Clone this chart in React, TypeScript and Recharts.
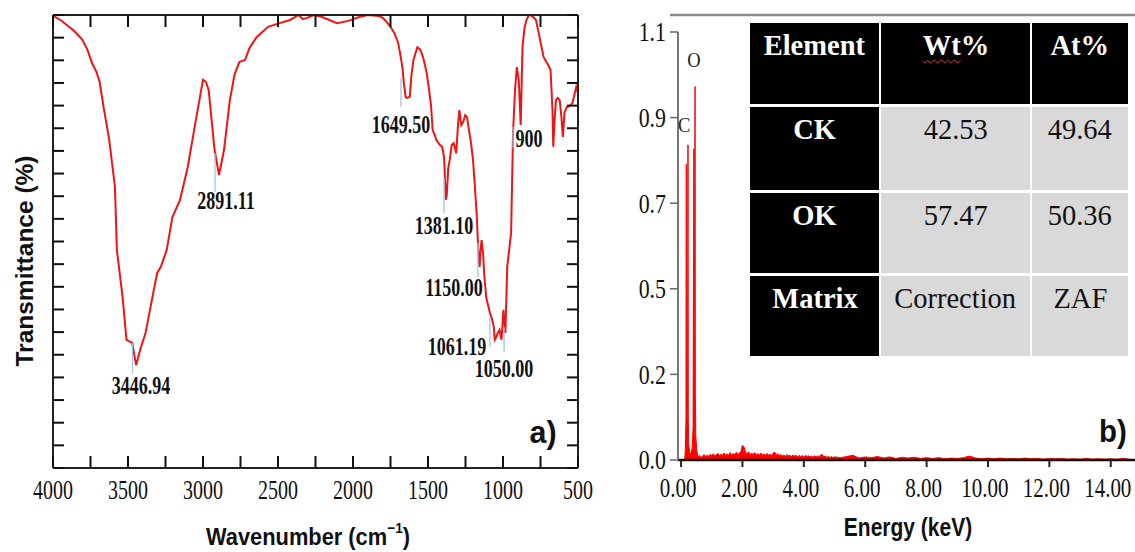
import React from 'react';
import { LineChart, AreaChart, Line, Area, XAxis, YAxis, ReferenceLine, ReferenceDot } from 'recharts';

const SERIF = '"Liberation Serif", "Times New Roman", serif';
const SANS = '"Liberation Sans", Arial, sans-serif';

// FTIR spectrum (wavenumber in cm-1, transmittance in %)
const ftirWavenumber = [
  4000, 3950, 3893, 3850, 3804, 3770, 3740, 3710, 3689, 3663,
  3625, 3587, 3574, 3536, 3510, 3472, 3446, 3420, 3383, 3332,
  3306, 3281, 3242, 3204, 3153, 3102, 3051, 3000, 2980, 2962,
  2923, 2893, 2860, 2821, 2790, 2758, 2719, 2690, 2643, 2566,
  2490, 2420, 2362, 2335, 2311, 2260, 2210, 2158, 2107, 2031,
  1954, 1900, 1827, 1800, 1776, 1750, 1724, 1700, 1686, 1670,
  1661, 1649, 1643, 1622, 1610, 1597, 1571, 1550, 1533, 1510,
  1495, 1480, 1469, 1455, 1444, 1420, 1406, 1393, 1381, 1375,
  1365, 1355, 1342, 1329, 1312, 1300, 1291, 1278, 1265, 1252,
  1240, 1227, 1214, 1200, 1189, 1175, 1168, 1160, 1156, 1150,
  1143, 1133, 1125, 1112, 1100, 1087, 1075, 1061, 1055, 1048,
  1035, 1023, 1010, 997, 984, 972, 959, 946, 933, 920,
  908, 895, 882, 870, 857, 844, 830, 818, 800, 780,
  755, 729, 700, 683, 670, 665, 656, 647, 635, 622,
  610, 601, 590, 575, 555, 537, 525, 512, 500,
];
const ftirTransmittance = [
  99.8, 98.9, 97.4, 96.2, 94.5, 92.3, 89.4, 87.4, 85.2, 79.7,
  72.4, 62.0, 48.1, 37.7, 28.3, 27.6, 22.7, 26.0, 29.8, 38.6,
  43.0, 44.4, 48.1, 55.4, 59.2, 66.4, 76.2, 85.7, 85.2, 83.4,
  70.2, 64.7, 70.2, 81.2, 86.8, 89.6, 90.1, 92.7, 95.1, 97.4,
  98.2, 98.9, 100, 99.1, 99.3, 100, 99.6, 98.9, 98.2, 98.7,
  99.6, 100, 99.8, 99.3, 98.5, 97.4, 96.0, 94.0, 91.6, 88.3,
  85.0, 81.9, 81.7, 81.9, 86.8, 90.1, 92.9, 92.3, 90.7, 87.4,
  84.1, 80.1, 74.6, 73.5, 72.4, 71.3, 70.9, 68.7, 59.2, 60.3,
  66.2, 68.0, 71.3, 71.7, 69.5, 75.7, 79.0, 75.7, 76.4, 77.9,
  77.5, 74.6, 72.0, 68.0, 62.9, 55.8, 50.3, 45.5, 44.4, 47.7,
  50.3, 47.5, 42.6, 37.7, 36.0, 34.2, 33.1, 31.1, 28.3, 28.7,
  29.8, 30.5, 28.3, 34.9, 29.8, 44.4, 48.1, 51.9, 74.0, 83.4,
  88.5, 85.7, 75.7, 92.9, 97.1, 98.9, 99.8, 100, 99.6, 98.9,
  94.9, 90.7, 89.0, 87.9, 79.0, 70.9, 76.8, 81.2, 81.7, 81.2,
  77.3, 73.1, 78.4, 79.7, 79.9, 80.6, 82.3, 84.1, 82.8,
];

const wnMajorTicks = [4000, 3500, 3000, 2500, 2000, 1500, 1000, 500];
const wnAllTicks = [4000, 3750, 3500, 3250, 3000, 2750, 2500, 2250, 2000, 1750, 1500, 1250, 1000, 750, 500];
const transTicks = [0, 5, 10, 15, 20, 25, 30, 35, 40, 45, 50, 55, 60, 65, 70, 75, 80, 85, 90, 95, 100];

// peak annotations: leader line (wavenumber, from/to transmittance) and label anchor
const peakLabels = ['3446.94', '2891.11', '1649.50', '1381.10', '1150.00', '1061.19', '1050.00', '900'];
const peakLeaderWn = [3470, 2920, 1680, 1393, 1167, 1087, 993, 933];
const peakLeaderFrom = [27.6, 69.5, 86.0, 64.0, 49.7, 33.3, 31.1, 75.3];
const peakLeaderTo = [21.0, 61.0, 79.7, 56.3, 42.2, 26.7, 25.6, 70.6];
const peakLabelWn = [3413, 2847, 1680, 1393, 1327, 1307, 993, 827];
const peakLabelT = [18.1, 58.9, 75.7, 53.4, 39.7, 26.7, 21.9, 72.6];

// EDS spectrum (energy in keV, counts in the axis units)
const edsEnergy = [
  0, 0.12, 0.14, 0.16, 0.17, 0.175, 0.19, 0.21, 0.225, 0.235,
  0.25, 0.28, 0.32, 0.36, 0.39, 0.415, 0.425, 0.44, 0.455, 0.465,
  0.48, 0.52, 0.56, 0.6,
  0.65, 0.7, 0.75, 0.8, 0.85, 0.9, 0.95, 1.0, 1.05, 1.1,
  1.15, 1.2, 1.25, 1.3, 1.35, 1.4, 1.45, 1.5, 1.55, 1.6,
  1.65, 1.7, 1.75, 1.8, 1.85, 1.9, 1.95, 2.0, 2.05, 2.1,
  2.15, 2.2, 2.25, 2.3, 2.35, 2.4, 2.45, 2.5, 2.55, 2.6,
  2.65, 2.7, 2.75, 2.8, 2.85, 2.9, 2.95, 3.0, 3.05, 3.1,
  3.15, 3.2, 3.25, 3.3, 3.35, 3.4, 3.45, 3.5, 3.55, 3.6,
  3.65, 3.7, 3.75, 3.8, 3.85, 3.9, 3.95, 4.0, 4.05, 4.1,
  4.15, 4.2, 4.25, 4.3, 4.35, 4.4, 4.45, 4.5, 4.55, 4.6,
  4.65, 4.7, 4.75, 4.8, 4.85, 4.9, 4.95, 5.0,
  5.2, 5.4, 5.6, 5.8, 6.0, 6.2, 6.4, 6.6, 6.8, 7.0,
  7.2, 7.4, 7.6, 7.8, 8.0, 8.2, 8.4, 8.6, 8.8, 9.0,
  9.2, 9.4, 9.6, 9.8, 10.0, 10.2, 10.4, 10.6, 10.8, 11.0,
  11.2, 11.4, 11.6, 11.8, 12.0, 12.2, 12.4, 12.6, 12.8, 13.0,
  13.2, 13.4, 13.6, 13.8, 14.0, 14.2, 14.4, 14.6,
];
const edsCounts = [
  0, 0, 0.03, 0.10, 0.76, 0.06, 0.09, 0.12, 0.81, 0.10,
  0.04, 0.02, 0.015, 0.03, 0.08, 0.80, 0.16, 0.19, 0.96, 0.17,
  0.06, 0.02, 0.008, 0.012,
  0.006, 0.010, 0.014, 0.008, 0.013, 0.009, 0.015, 0.011, 0.016, 0.010,
  0.014, 0.017, 0.011, 0.015, 0.012, 0.018, 0.013, 0.016, 0.012, 0.019,
  0.013, 0.017, 0.014, 0.020, 0.014, 0.018, 0.022, 0.038, 0.034, 0.020,
  0.016, 0.021, 0.013, 0.018, 0.014, 0.019, 0.012, 0.017, 0.013, 0.018,
  0.012, 0.016, 0.011, 0.017, 0.012, 0.015, 0.011, 0.018, 0.020, 0.013,
  0.016, 0.011, 0.014, 0.010, 0.013, 0.009, 0.014, 0.010, 0.012, 0.009,
  0.013, 0.010, 0.012, 0.008, 0.012, 0.009, 0.011, 0.008, 0.012, 0.009,
  0.011, 0.008, 0.010, 0.007, 0.011, 0.008, 0.010, 0.009, 0.013, 0.014,
  0.008, 0.010, 0.007, 0.009, 0.006, 0.009, 0.006, 0.008,
  0.006, 0.009, 0.012, 0.005, 0.008, 0.006, 0.009, 0.005, 0.008, 0.004,
  0.007, 0.005, 0.007, 0.004, 0.006, 0.004, 0.006, 0.003, 0.005, 0.004,
  0.006, 0.010, 0.005, 0.003, 0.005, 0.003, 0.005, 0.003, 0.004, 0.003,
  0.005, 0.003, 0.004, 0.002, 0.004, 0.003, 0.004, 0.002, 0.003, 0.002,
  0.004, 0.002, 0.003, 0.002, 0.003, 0.002, 0.004, 0.002,
];

const edsXTicks = [0, 2, 4, 6, 8, 10, 12, 14];
const edsYTicks = [0, 0.22, 0.44, 0.66, 0.88, 1.1];
const edsYTickLabels = ['0.0', '0.2', '0.5', '0.7', '0.9', '1.1'];
const edsElements = ['C', 'O'];
const edsElementE = [0.1, 0.42];
const edsElementY = [0.862, 1.03];

// composition table
const tableHeader = ['Element', 'Wt%', 'At%'];
const tableRows = [
  ['CK', '42.53', '49.64'],
  ['OK', '57.47', '50.36'],
  ['Matrix', 'Correction', 'ZAF'],
];

const ftirData = ftirWavenumber.map((wn, i) => ({ wn, t: ftirTransmittance[i] }));
const edsData = edsEnergy.map((e, i) => ({ e, c: edsCounts[i] }));

// plot boxes, in each chart's own pixels
const A = { left: 53, right: 578, top: 15, bottom: 468 };
const B = { left: 78, top: 32, bottom: 460 };

function SqText({ x, y, sx = 1, size, weight = 'normal', family = SERIF, anchor = 'middle', fill = '#111', children }: any) {
  return (
    <text
      transform={`translate(${x},${y}) scale(${sx},1)`}
      fontSize={size}
      fontWeight={weight}
      fontFamily={family}
      textAnchor={anchor}
      dominantBaseline="central"
      fill={fill}
    >
      {children}
    </text>
  );
}

const ftirBottomTick = (p: any) => (
  <g>
    <line x1={p.x} x2={p.x} y1={A.bottom} y2={A.bottom - 12} stroke="#111" strokeWidth={2} />
    {wnMajorTicks.includes(p.payload.value) && (
      <SqText x={p.x} y={490} size={27} sx={0.74}>{p.payload.value}</SqText>
    )}
  </g>
);
const ftirTopTick = (p: any) => (
  <line x1={p.x} x2={p.x} y1={A.top} y2={A.top + 12} stroke="#111" strokeWidth={2} />
);
const ftirLeftTick = (p: any) => (
  <line x1={A.left} x2={A.left + 11} y1={p.y} y2={p.y} stroke="#111" strokeWidth={2} />
);
const ftirRightTick = (p: any) => (
  <line x1={A.right} x2={A.right - 11} y1={p.y} y2={p.y} stroke="#111" strokeWidth={2} />
);

const edsXTick = (p: any) => (
  <g>
    <line x1={p.x} x2={p.x} y1={B.bottom} y2={B.bottom + 7} stroke="#222" strokeWidth={2} />
    <SqText x={p.x - 3} y={487} size={28} sx={0.75}>{p.payload.value.toFixed(2)}</SqText>
  </g>
);
const edsYTick = (p: any) => (
  <g>
    <line x1={B.left - 8} x2={B.left} y1={p.y} y2={p.y} stroke="#666" strokeWidth={1.5} />
    <SqText x={B.left - 12} y={p.y} anchor="end" size={28} sx={0.78}>
      {edsYTickLabels[edsYTicks.indexOf(p.payload.value)]}
    </SqText>
  </g>
);

function CompositionTable() {
  const cell = (text: string, dark: boolean, bold: boolean, key: string) => (
    <div
      key={key}
      style={{
        background: dark ? '#000' : '#d9d9d9',
        color: dark ? '#fff' : '#111',
        fontFamily: SERIF,
        fontWeight: bold ? 'bold' : 'normal',
        fontSize: 30,
        lineHeight: '30px',
        paddingTop: 7,
        textAlign: 'center',
        boxSizing: 'border-box',
      }}
    >
      <span style={{ display: 'inline-block', transform: 'scaleX(0.95)' }}>
        {text === 'Wt%' ? (
          <>
            <span style={{ textDecoration: 'underline wavy #e23b3b', textDecorationThickness: 1, textUnderlineOffset: 4 }}>Wt</span>%
          </>
        ) : (
          text
        )}
      </span>
    </div>
  );
  return (
    <div
      style={{
        position: 'absolute',
        left: 750,
        top: 23,
        width: 378,
        display: 'grid',
        gridTemplateColumns: '129px 149px 96px',
        gridTemplateRows: '81px 83px 80px 80px',
        columnGap: 2,
        rowGap: 3,
        background: '#fff',
      }}
    >
      {tableHeader.map((h, i) => cell(h, true, true, 'h' + i))}
      {tableRows.map((row, r) => row.map((v, c) => cell(v, c === 0, c === 0, r + '-' + c)))}
    </div>
  );
}

export default function App() {
  return (
    <div style={{ position: 'absolute', left: 0, top: 0, width: 1135, height: 552, background: '#fff', overflow: 'hidden' }}>
      <div style={{ position: 'absolute', left: 0, top: 0 }}>
        <LineChart width={600} height={552} data={ftirData} margin={{ top: 0, right: 0, bottom: 0, left: 0 }}>
          <XAxis
            xAxisId="b"
            type="number"
            dataKey="wn"
            domain={[500, 4000]}
            reversed
            ticks={wnAllTicks}
            interval={0}
            height={84}
            axisLine={{ stroke: '#222', strokeWidth: 2 }}
            tickLine={false}
            tick={ftirBottomTick}
          />
          <XAxis
            xAxisId="t"
            orientation="top"
            type="number"
            dataKey="wn"
            domain={[500, 4000]}
            reversed
            ticks={wnAllTicks}
            interval={0}
            height={15}
            axisLine={{ stroke: '#222', strokeWidth: 2 }}
            tickLine={false}
            tick={ftirTopTick}
          />
          <YAxis
            yAxisId="l"
            type="number"
            domain={[0, 100]}
            ticks={transTicks}
            interval={0}
            width={53}
            axisLine={{ stroke: '#222', strokeWidth: 2 }}
            tickLine={false}
            tick={ftirLeftTick}
          />
          <YAxis
            yAxisId="r"
            orientation="right"
            type="number"
            domain={[0, 100]}
            ticks={transTicks}
            interval={0}
            width={22}
            axisLine={{ stroke: '#222', strokeWidth: 2 }}
            tickLine={false}
            tick={ftirRightTick}
          />
          <Line xAxisId="t" yAxisId="r" dataKey="t" stroke="none" dot={false} isAnimationActive={false} />
          <Line
            xAxisId="b"
            yAxisId="l"
            type="linear"
            dataKey="t"
            stroke="#f01414"
            strokeWidth={2}
            dot={false}
            isAnimationActive={false}
          />
          {peakLabels.map((lab, i) => (
            <ReferenceLine
              key={'l' + lab}
              xAxisId="b"
              yAxisId="l"
              segment={[
                { x: peakLeaderWn[i], y: peakLeaderFrom[i] },
                { x: peakLeaderWn[i], y: peakLeaderTo[i] },
              ]}
              stroke="#9dc3e6"
              strokeWidth={1.3}
              ifOverflow="visible"
            />
          ))}
          {peakLabels.map((lab, i) => (
            <ReferenceDot
              key={'d' + lab}
              xAxisId="b"
              yAxisId="l"
              x={peakLabelWn[i]}
              y={peakLabelT[i]}
              r={0}
              ifOverflow="visible"
              shape={(s: any) => (
                <SqText x={s.cx} y={s.cy} size={25} sx={0.72} weight="bold">{lab}</SqText>
              )}
            />
          ))}
        </LineChart>
      </div>

      <div style={{ position: 'absolute', left: 600, top: 0 }}>
        <AreaChart width={535} height={552} data={edsData} margin={{ top: B.top, right: 0, bottom: 0, left: 0 }}>
          <XAxis
            type="number"
            dataKey="e"
            domain={[-0.1, 14.79]}
            allowDataOverflow
            ticks={edsXTicks}
            interval={0}
            height={92}
            axisLine={{ stroke: '#111', strokeWidth: 2.5 }}
            tickLine={false}
            tick={edsXTick}
          />
          <YAxis
            type="number"
            domain={[0, 1.1]}
            ticks={edsYTicks}
            interval={0}
            width={B.left}
            axisLine={{ stroke: '#777', strokeWidth: 2 }}
            tickLine={false}
            tick={edsYTick}
          />
          <Area
            type="linear"
            dataKey="c"
            stroke="#ff0000"
            strokeWidth={1}
            fill="#ff0000"
            fillOpacity={1}
            dot={false}
            isAnimationActive={false}
          />
          {edsElements.map((el, i) => (
            <ReferenceDot
              key={el}
              x={edsElementE[i]}
              y={edsElementY[i]}
              r={0}
              ifOverflow="visible"
              shape={(s: any) => (
                <SqText x={s.cx} y={s.cy} size={21} sx={0.88} fill="#222">{el}</SqText>
              )}
            />
          ))}
        </AreaChart>
      </div>

      <svg width={1135} height={552} style={{ position: 'absolute', left: 0, top: 0, pointerEvents: 'none' }}>
        <line x1={670} x2={1135} y1={15} y2={15} stroke="#8a8a8a" strokeWidth={2.5} />
        <text
          transform="translate(24,261) rotate(-90)"
          textAnchor="middle"
          dominantBaseline="central"
          fontFamily={SANS}
          fontWeight="bold"
          fontSize={24.5}
          fill="#111"
        >
          Transmittance (%)
        </text>
        <SqText x={308} y={537} size={24} sx={0.91} weight="bold" family={SANS}>
          Wavenumber (cm
          <tspan fontSize={15} dy={-9}>−1</tspan>
          <tspan dy={9}>)</tspan>
        </SqText>
        <SqText x={908} y={527} size={25} sx={0.84} weight="bold" family={SANS}>Energy (keV)</SqText>
        <SqText x={543} y={432} size={32} sx={0.95} weight="bold" family={SANS}>a)</SqText>
        <SqText x={1113} y={431} size={31} sx={0.95} weight="bold" family={SANS}>b)</SqText>
      </svg>

      <CompositionTable />
    </div>
  );
}
